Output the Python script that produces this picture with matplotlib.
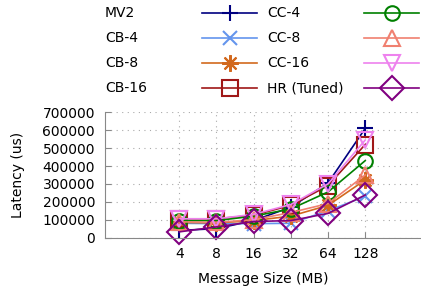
import matplotlib
matplotlib.use("Agg")
import matplotlib.pyplot as plt
from matplotlib.lines import Line2D

sizes = ['4', '8', '16', '32', '64', '128']

mv2 = [40000, 50000, 95000, 170000, 305000, 610000]
cb4 = [80000, 78000, 78000, 80000, 150000, 230000]
cb8 = [85000, 82000, 95000, 120000, 180000, 322000]
cb16 = [105000, 105000, 125000, 180000, 290000, 520000]
cc4 = [95000, 95000, 120000, 160000, 255000, 430000]
cc8 = [88000, 85000, 100000, 140000, 190000, 350000]
cc16 = [105000, 105000, 130000, 185000, 300000, 545000]
hr = [32000, 60000, 90000, 95000, 135000, 238000]

series = [
    ('MV2', mv2, '#000080', '+', 12),
    ('CB-4', cb4, '#6495ED', 'x', 10.5),
    ('CB-8', cb8, '#D2691E', (8, 2, 0), 12),
    ('CB-16', cb16, '#A01818', 's', 12),
    ('CC-4', cc4, '#008000', 'o', 10.5),
    ('CC-8', cc8, '#F08070', '^', 11),
    ('CC-16', cc16, '#EE82EE', 'v', 11),
    ('HR (Tuned)', hr, '#800080', 'D', 12),
]

plt.rcParams['font.family'] = 'DejaVu Sans'
plt.rcParams['font.size'] = 10

fig = plt.figure(figsize=(4.21, 2.88), dpi=100)
ax = fig.add_axes([0.249, 0.175, 0.751, 0.435])

x = list(range(len(sizes)))
for name, vals, col, mk, ms in series:
    ax.plot(x, vals, color=col, lw=1.2, marker=mk, ms=ms, mfc='none',
            mec=col, mew=1.5, clip_on=False)

ax.set_xlim(-2, 6.5)
ax.set_ylim(0, 700000)
ax.set_xticks(x)
ax.set_xticklabels(sizes)
ax.set_yticks(range(0, 700001, 100000))
ax.grid(True, linestyle=(0, (1, 4)), color='#aaaaaa', lw=0.8)
ax.set_axisbelow(True)
for s in ['top', 'right']:
    ax.spines[s].set_visible(False)
for s in ['left', 'bottom']:
    ax.spines[s].set_color('#888888')
ax.tick_params(direction='in', length=4, color='#888888', pad=7)
ax.set_xlabel('Message Size (MB)', labelpad=8)
fig.text(18 / 421, 1 - 175 / 288, 'Latency (us)', rotation=90,
         ha='center', va='center')

# gnuplot-style key: label, then sample line
W, H = 421.0, 288.0
rows = [13, 38, 63, 88]
cols = [(105, 202, 257), (267, 364, 419)]
for i, (name, vals, col, mk, ms) in enumerate(series):
    tx, l0, l1 = cols[i // 4]
    yy = 1 - rows[i % 4] / H
    fig.text(tx / W, yy, name, ha='left', va='center')
    fig.add_artist(Line2D([l0 / W, l1 / W], [yy, yy], color=col, lw=1.2))
    fig.add_artist(Line2D([(l0 + l1) / 2 / W], [yy], color=col, marker=mk,
                          ms=ms, mfc='none', mec=col, mew=1.5))

fig.savefig('out.png', dpi=100)
